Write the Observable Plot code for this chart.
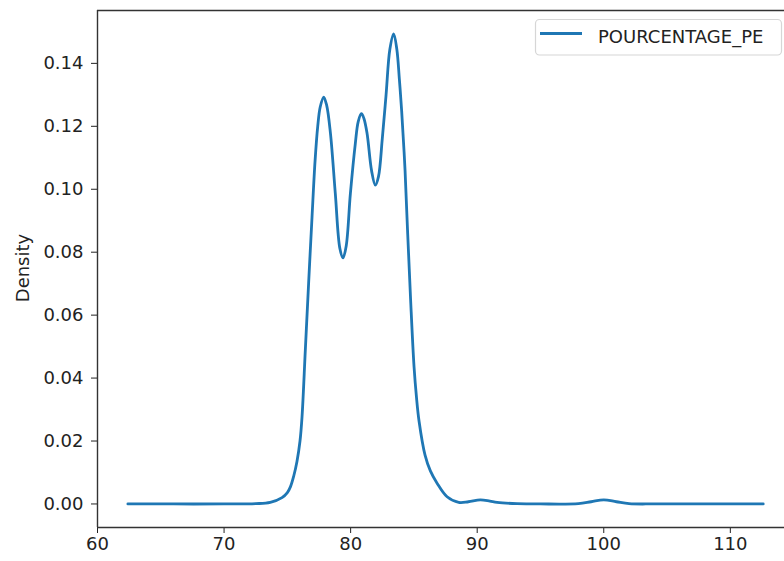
<!DOCTYPE html>
<html>
<head>
<meta charset="utf-8">
<script src="https://cdn.jsdelivr.net/npm/d3@7"></script>
<script src="https://cdn.jsdelivr.net/npm/@observablehq/plot@0.6"></script>
<style>
  html, body { margin: 0; padding: 0; background: white; }
  #chart { width: 784px; height: 561px; }
</style>
</head>
<body>
<div id="chart"></div>
<script>
// Series: KDE of POURCENTAGE_PE
const seriesName = "POURCENTAGE_PE";
const xs = [62.4, 66, 70, 72.5, 73.65, 74.58, 75.0, 75.25, 75.5, 75.76, 76.0, 76.16, 76.42, 76.68, 76.95, 77.19, 77.4, 77.6, 77.87, 78.1, 78.4, 78.79, 79.15, 79.4, 79.65, 79.98, 80.37, 80.6, 80.85, 81.05, 81.3, 81.65, 81.95, 82.2, 82.5, 82.8, 83.1, 83.4, 83.65, 83.85, 84.03, 84.3, 84.51, 84.74, 85.01, 85.2, 85.41, 85.88, 86.3, 86.83, 87.62, 88.54, 89.3, 90.25, 91.0, 91.57, 93.15, 95, 98, 99, 100, 101, 102, 104, 108, 112.6];
const density = [0, 0, 0, 0.0001, 0.0005, 0.0020, 0.0036, 0.0055, 0.0088, 0.0135, 0.020, 0.0277, 0.0489, 0.0701, 0.0912, 0.1090, 0.1200, 0.1262, 0.1293, 0.1268, 0.1180, 0.0986, 0.0812, 0.0782, 0.0820, 0.0986, 0.1145, 0.1215, 0.124, 0.1225, 0.1177, 0.106, 0.1013, 0.104, 0.116, 0.130, 0.1445, 0.1494, 0.1445, 0.135, 0.1250, 0.1060, 0.0857, 0.0648, 0.0436, 0.034, 0.0262, 0.0155, 0.0105, 0.0066, 0.0023, 0.0005, 0.0007, 0.0013, 0.0009, 0.0005, 0.0001, 0, 0.0001, 0.0007, 0.0013, 0.0007, 0.0001, 0, 0, 0];
const xTicks = [60, 70, 80, 90, 100, 110];
const yTicks = [0, 0.02, 0.04, 0.06, 0.08, 0.10, 0.12, 0.14];
const yLabel = "Density";

const data = xs.map((x, i) => ({x, y: density[i]}));

const xDomain = [60, 114.28];
const yDomain = [-0.00748, 0.1568];
const axisColor = "#333";
const lineColor = "#1f77b4";

const plot = Plot.plot({
  width: 784,
  height: 561,
  marginLeft: 97,
  marginRight: 0,
  marginTop: 10,
  marginBottom: 34,
  style: {fontFamily: "DejaVu Sans", fontSize: "18px", color: "#222", background: "white", overflow: "visible"},
  x: {domain: xDomain, ticks: xTicks, tickFormat: d => String(d), tickSize: 6, tickPadding: 4, label: null},
  y: {domain: yDomain, ticks: yTicks, tickFormat: d3.format(".2f"), tickSize: 6, tickPadding: 8, label: null},
  marks: [
    Plot.ruleX([xDomain[0]], {stroke: axisColor, strokeWidth: 1.4}),
    Plot.ruleY([yDomain[0], yDomain[1]], {stroke: axisColor, strokeWidth: 1.4}),
    Plot.line(data, {x: "x", y: "y", stroke: lineColor, strokeWidth: 2.8, curve: "catmull-rom"})
  ]
});

document.getElementById("chart").appendChild(plot);

const svg = d3.select(plot);
// y axis label
svg.append("text")
  .attr("transform", "translate(29,268) rotate(-90)")
  .attr("text-anchor", "middle")
  .attr("font-family", "DejaVu Sans")
  .attr("font-size", 18)
  .attr("fill", "#222")
  .text(yLabel);

// legend
const lg = svg.append("g");
lg.append("rect")
  .attr("x", 535.5).attr("y", 19.5).attr("width", 246).attr("height", 35.5)
  .attr("rx", 4).attr("fill", "white").attr("fill-opacity", 0.8)
  .attr("stroke", "#d6d6d6").attr("stroke-width", 1.2);
lg.append("line")
  .attr("x1", 540).attr("x2", 582).attr("y1", 33.5).attr("y2", 33.5)
  .attr("stroke", lineColor).attr("stroke-width", 2.8);
lg.append("text")
  .attr("x", 598).attr("y", 43)
  .attr("text-anchor", "start")
  .attr("font-family", "DejaVu Sans")
  .attr("font-size", 18)
  .attr("fill", "#222")
  .text(seriesName);
</script>
</body>
</html>
